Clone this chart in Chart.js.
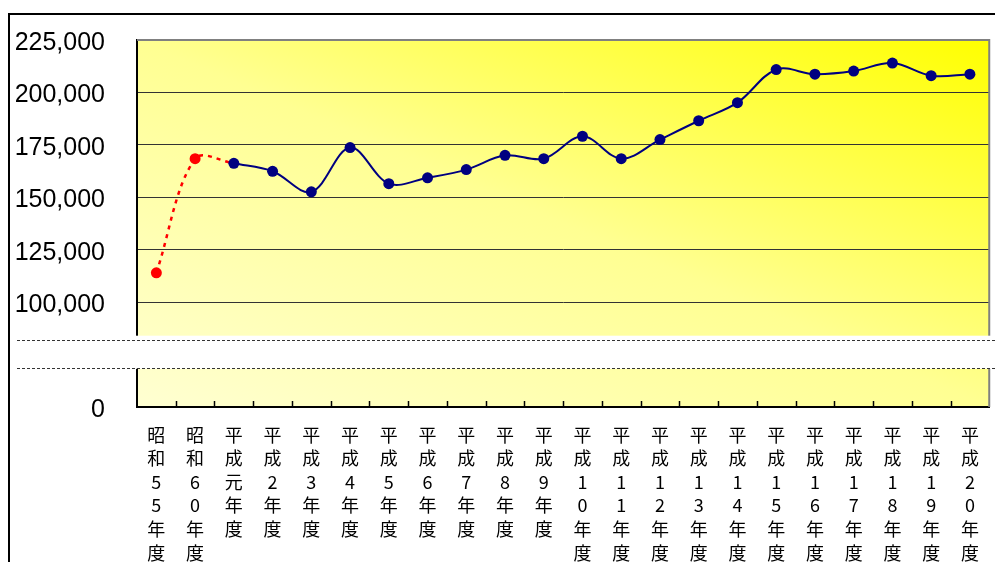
<!DOCTYPE html>
<html>
<head>
<meta charset="utf-8">
<script src="https://cdn.jsdelivr.net/npm/chart.js@4/dist/chart.umd.min.js"></script>
<style>
  html, body { margin: 0; padding: 0; background: #fff; }
  canvas { display: block; }
</style>
</head>
<body>
<canvas id="chart" width="995" height="562"></canvas>
<script>
// fiscal years (昭和55年度 … 平成20年度)
const years = [
  "昭和55年度", "昭和60年度", "平成元年度", "平成2年度", "平成3年度", "平成4年度",
  "平成5年度", "平成6年度", "平成7年度", "平成8年度", "平成9年度", "平成10年度",
  "平成11年度", "平成12年度", "平成13年度", "平成14年度", "平成15年度", "平成16年度",
  "平成17年度", "平成18年度", "平成19年度", "平成20年度"
];

// early years (red, dotted) and annual series (navy)
const earlyValues = [114000, 168400, 166200];
const annualValues = [
  null, null, 166200, 162400, 152600, 173700, 156500, 159300, 163200, 170000,
  168400, 179100, 168400, 177500, 186500, 195100, 210900, 208700, 210200,
  214000, 208000, 208700
];

// axis: 50,000 stands in for "0" below the break
const yMin = 50000;
const yMax = 225000;
const yStep = 25000;
const hiddenTicks = [75000];
const zeroTick = 50000;

// break band (value units)
const breakTop = 84000;
const breakBottom = 68200;
const dashUpper = 82100;
const dashLower = 68700;

const earlyData = years.map((_, i) => (i < earlyValues.length ? earlyValues[i] : null));

const chartDecor = {
  id: "chartDecor",
  beforeDraw(chart) {
    const { ctx, chartArea: a } = chart;
    const w = a.right - a.left;
    const h = a.bottom - a.top;
    // diagonal gradient with isolines along the top-left / bottom-right diagonal
    const k = 2 / (1 / (w * w) + 1 / (h * h));
    const g = ctx.createLinearGradient(a.left, a.bottom, a.left + k / w, a.bottom - k / h);
    g.addColorStop(0, "#FFFFD2");
    g.addColorStop(0.5, "#FFFF92");
    g.addColorStop(1, "#FFFF00");
    ctx.save();
    ctx.fillStyle = g;
    ctx.fillRect(a.left, a.top, w, h);
    ctx.restore();
  },
  beforeDatasetsDraw(chart) {
    const { ctx, chartArea: a, scales } = chart;
    const y = scales.y;
    ctx.save();
    // plot frame top/right in grey
    ctx.strokeStyle = "#808080";
    ctx.lineWidth = 2;
    ctx.beginPath();
    ctx.moveTo(a.left, a.top);
    ctx.lineTo(a.right, a.top);
    ctx.lineTo(a.right, a.bottom);
    ctx.stroke();
    // inward category ticks
    const x = scales.x;
    const half = (x.getPixelForValue(1) - x.getPixelForValue(0)) / 2;
    ctx.strokeStyle = "#000";
    ctx.lineWidth = 1.5;
    for (let i = 1; i < years.length; i++) {
      const px = Math.round(x.getPixelForValue(i) - half) + 0.5;
      ctx.beginPath();
      ctx.moveTo(px, a.bottom);
      ctx.lineTo(px, a.bottom - 6);
      ctx.stroke();
    }
    // axis break
    const t = y.getPixelForValue(breakTop);
    const b = y.getPixelForValue(breakBottom);
    ctx.fillStyle = "#fff";
    ctx.fillRect(a.left - 2, t, chart.width - a.left + 2, b - t);
    ctx.strokeStyle = "#333";
    ctx.lineWidth = 1;
    ctx.setLineDash([3, 2]);
    [dashUpper, dashLower].forEach((v) => {
      const py = Math.round(y.getPixelForValue(v)) + 0.5;
      ctx.beginPath();
      ctx.moveTo(17, py);
      ctx.lineTo(chart.width, py);
      ctx.stroke();
    });
    ctx.setLineDash([]);
    // outer frame
    ctx.strokeStyle = "#000";
    ctx.lineWidth = 2;
    ctx.beginPath();
    ctx.moveTo(9, chart.height);
    ctx.lineTo(9, 14);
    ctx.lineTo(chart.width, 14);
    ctx.stroke();
    ctx.restore();
  }
};

new Chart(document.getElementById("chart"), {
  type: "line",
  data: {
    labels: years.map((s) => Array.from(s)),
    datasets: [
      {
        data: annualValues,
        borderColor: "#000080",
        backgroundColor: "#000080",
        borderWidth: 2,
        pointRadius: 5.5,
        pointBorderWidth: 0,
        tension: 0.35
      },
      {
        data: earlyData,
        borderColor: "#FF0000",
        backgroundColor: "#FF0000",
        borderWidth: 2.5,
        borderDash: [4, 5],
        pointRadius: [5.5, 5.5, 0],
        pointBorderWidth: 0,
        tension: 0.35
      }
    ]
  },
  options: {
    responsive: false,
    animation: false,
    devicePixelRatio: 1,
    layout: { padding: { top: 40, right: 2, left: 0, bottom: 0 } },
    plugins: { legend: { display: false }, tooltip: { enabled: false } },
    scales: {
      x: {
        offset: true,
        afterFit: (s) => { s.height = 155; },
        grid: { display: false, drawTicks: false },
        border: { color: "#000", width: 2 },
        ticks: {
          autoSkip: false,
          maxRotation: 0,
          padding: 16,
          color: "#000",
          font: { family: "'Noto Sans CJK JP'", size: 18, lineHeight: 1.31 }
        }
      },
      y: {
        min: yMin,
        max: yMax,
        afterFit: (s) => {
          s.width = 137;
          s.paddingTop = 0;
          s.paddingBottom = 0;
        },
        grid: {
          color: (c) => (c.tick && hiddenTicks.includes(c.tick.value) ? "rgba(0,0,0,0)" : "#333"),
          lineWidth: 1,
          drawTicks: false
        },
        border: { color: "#000", width: 2 },
        ticks: {
          stepSize: yStep,
          padding: 32,
          labelOffset: 3,
          color: "#000",
          font: { family: "'Liberation Sans'", size: 25 },
          callback: (v) => {
            if (hiddenTicks.includes(v)) return "";
            if (v === zeroTick) return "0";
            return v.toLocaleString("en-US");
          }
        }
      }
    }
  },
  plugins: [chartDecor]
});
</script>
</body>
</html>
